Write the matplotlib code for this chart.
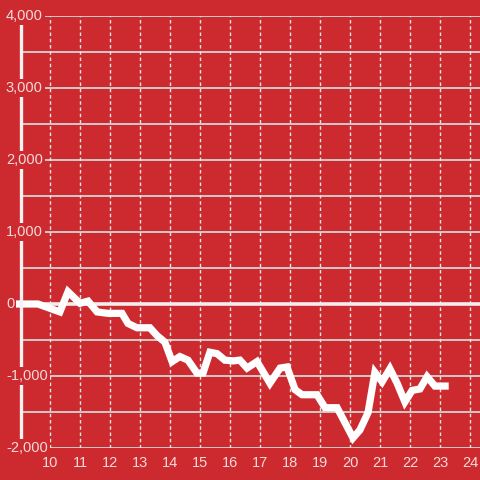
import matplotlib
matplotlib.use('Agg')
import matplotlib.pyplot as plt

# series
xs = [8.9, 9.6, 10.33, 10.6, 11.0, 11.27, 11.57, 11.93, 12.4, 12.6, 12.9, 13.33,
      13.57, 13.83, 14.07, 14.33, 14.6, 14.9, 15.1, 15.33, 15.57, 15.83, 16.1,
      16.33, 16.57, 16.9, 17.33, 17.67, 17.9, 18.17, 18.4, 18.9, 19.17, 19.57,
      20.1, 20.33, 20.6, 20.83, 21.07, 21.33, 21.57, 21.83, 22.07, 22.33, 22.57,
      22.83, 23.17]
ys = [0, 0, -110, 170, 10, 40, -110, -130, -130, -270, -330, -330,
      -440, -530, -800, -730, -780, -960, -960, -670, -690, -780, -790,
      -780, -890, -800, -1100, -890, -875, -1190, -1260, -1260, -1440, -1440,
      -1860, -1750, -1510, -950, -1080, -900, -1100, -1360, -1200, -1180, -1010,
      -1140, -1140]

x_ticks = list(range(10, 25))
y_ticks = [-2000, -1000, 0, 1000, 2000, 3000, 4000]
y_grid = list(range(-2000, 4001, 500))

BG = '#cd2a2f'
TXT = '#f4dada'

plt.rcParams['font.family'] = ['Liberation Sans', 'DejaVu Sans']

fig = plt.figure(figsize=(4.8, 4.8), dpi=100, facecolor=BG)
ax = fig.add_axes([22 / 480, 1 - 448 / 480, 1 - 22 / 480, 432 / 480])
ax.set_facecolor(BG)
x0, x1 = 9.067, 24.333
ax.set_xlim(x0, x1)
ax.set_ylim(-2000, 4000)

for v in y_grid:
    ax.axhline(v, color='#d4d4d4', lw=1.3, zorder=1)
for v in x_ticks:
    ax.axvline(v, color='#e6e6e6', lw=1, ls=(0, (2.5, 2)), zorder=1)
ax.plot([8.9, x1], [0, 0], color='#f2eeee', lw=2.6, zorder=2, clip_on=False)

ax.plot(xs, ys, color='white', lw=5.2, solid_joinstyle='miter', zorder=3, clip_on=False)

for s in ['top', 'right', 'bottom']:
    ax.spines[s].set_visible(False)
ax.spines['left'].set_color('#f2f2f2')
ax.spines['left'].set_linewidth(2.4)
ax.spines['left'].set_position(('outward', 1))
ax.spines['left'].set_zorder(4)

ax.set_xticks(x_ticks)
ax.set_xticklabels([str(v) for v in x_ticks])
ax.tick_params(axis='x', length=0, pad=6, labelsize=10.5, labelcolor=TXT)
ax.set_yticks([])

for v in y_ticks:
    ax.text(8.53, v, f'{v:,}', ha='left', va='center', fontsize=10.5, color=TXT,
            bbox=dict(facecolor=BG, edgecolor='none', pad=1.5), zorder=5, clip_on=False)

fig.savefig('out.png', dpi=100, facecolor=BG)
